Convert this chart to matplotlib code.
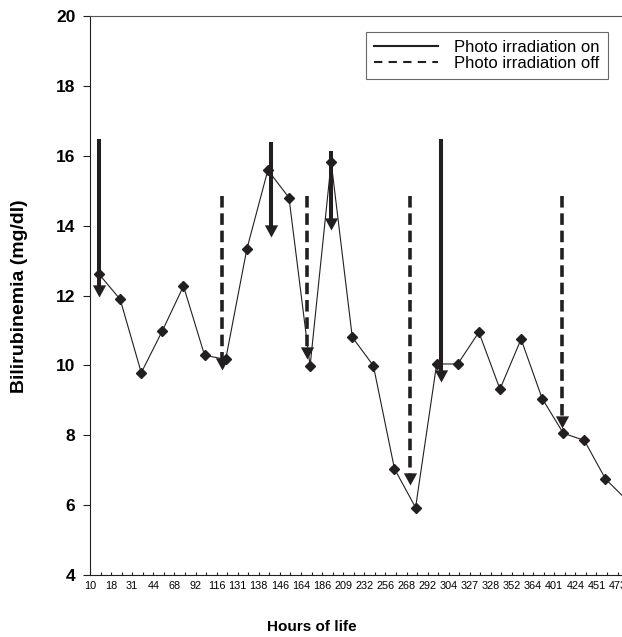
import matplotlib
matplotlib.use("Agg")
import matplotlib.pyplot as plt
from matplotlib.lines import Line2D
from matplotlib.ticker import FixedLocator, NullFormatter

plt.rcParams['font.family'] = ['Liberation Sans', 'DejaVu Sans']

# ---- data ----
hour_labels = ['10', '18', '31', '44', '68', '92', '116', '131', '138', '146',
               '164', '186', '209', '232', '256', '268', '292', '304', '327',
               '328', '352', '364', '401', '424', '451', '473']
bilirubin = [12.61, 11.89, 9.79, 10.99, 12.27, 10.29, 10.17, 13.32, 15.59, 14.80,
             9.98, 15.82, 10.81, 9.99, 7.04, 5.93, 10.04, 10.04, 10.95, 9.32,
             10.75, 9.05, 8.06, 7.85, 6.75, 6.15]
# photo irradiation events (position in category units, start value, arrow tip value)
on_pos = [0.43, 8.58, 11.41, 16.65]
on_top = [16.48, 16.39, 16.14, 16.48]
on_tip = [11.97, 13.67, 13.88, 9.53]
off_pos = [6.27, 10.30, 15.18, 22.36]
off_top = [14.85, 14.85, 14.85, 14.85]
off_tip = [9.87, 10.17, 6.58, 8.21]

ink = '#231f20'
W, H = 622, 637
fig = plt.figure(figsize=(W / 100, H / 100), dpi=100)
ax = fig.add_axes([90 / W, 62 / H, 1 - 90 / W, 559 / H])

point_offset = 0.43
xs = [i + point_offset for i in range(len(bilirubin))]
ax.plot(xs, bilirubin, color=ink, lw=0.8, marker='D', markersize=4.8,
        markerfacecolor=ink, markeredgecolor=ink, zorder=3)

head = [(-6, 11), (6, 11), (0, 0)]
head_len = 0.25

for x, t, b in zip(on_pos, on_top, on_tip):
    ax.plot([x, x], [t, b + head_len], color=ink, lw=2.9, solid_capstyle='butt', zorder=4)
    ax.plot([x], [b], marker=head, markersize=17.5, color=ink, markeredgewidth=0, zorder=5)

for x, t, b in zip(off_pos, off_top, off_tip):
    ax.plot([x, x], [t, b + head_len], color=ink, lw=2.6, dashes=(3.2, 1.6),
            dash_capstyle='butt', zorder=4)
    ax.plot([x], [b], marker=head, markersize=17.5, color=ink, markeredgewidth=0, zorder=5)

ax.set_xlim(0, 532 / 21.1)
ax.set_ylim(4, 20)

ax.set_yticks(range(4, 21, 2))
ax.set_yticklabels([str(v) for v in range(4, 21, 2)], fontsize=12.5, fontweight='bold')
ax.tick_params(axis='y', direction='out', length=5, width=0.8, color=ink, pad=5.5)

ax.set_xticks(range(len(hour_labels)))
ax.set_xticklabels(hour_labels, fontsize=7.8,
                   family=['Liberation Sans Narrow', 'Liberation Sans', 'DejaVu Sans'])
ax.xaxis.set_minor_locator(FixedLocator([i + 0.5 for i in range(len(hour_labels))]))
ax.xaxis.set_minor_formatter(NullFormatter())
ax.tick_params(axis='x', which='both', direction='in', length=2.5, width=0.8,
               color=ink, pad=4)

for s in ['left', 'bottom']:
    ax.spines[s].set_color(ink)
    ax.spines[s].set_linewidth(0.8)
ax.spines['top'].set_color('#555555')
ax.spines['top'].set_linewidth(0.8)
ax.spines['right'].set_visible(False)

fig.text(20 / W, 1 - 296 / H, 'Bilirubinemia (mg/dl)', fontsize=14, fontweight='bold',
         rotation=90, ha='center', va='center')
fig.text(312 / W, 1 - 627 / H, 'Hours of life', fontsize=11, fontweight='bold',
         ha='center', va='center')

handles = [Line2D([], [], color=ink, lw=1.5),
           Line2D([], [], color=ink, lw=1.5, dashes=(4, 3))]
leg = ax.legend(handles, ['Photo irradiation on', 'Photo irradiation off'],
                loc='upper right', bbox_to_anchor=(608 / W, 1 - 31.7 / H),
                bbox_transform=fig.transFigure, borderaxespad=0, fontsize=12,
                frameon=True, fancybox=False, handlelength=3.85, handletextpad=0.95,
                labelspacing=0.05, borderpad=0.5)
leg.get_frame().set_edgecolor('#444444')
leg.get_frame().set_linewidth(0.8)

fig.savefig('out.png', dpi=100)
